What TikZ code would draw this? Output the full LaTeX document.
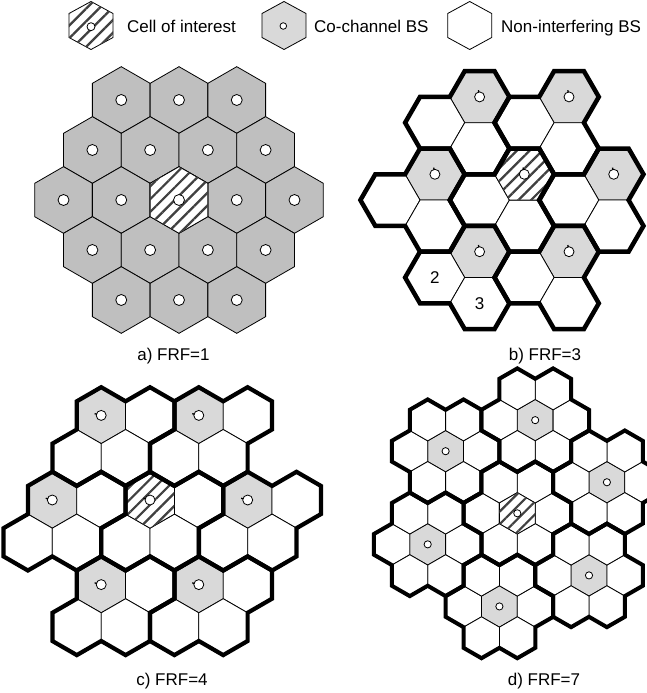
\documentclass[tikz,border=0pt]{standalone}
\usepackage{fontspec}
\setmainfont{Liberation Sans}
\usetikzlibrary{patterns.meta}

\definecolor{cochA}{gray}{0.75}
\definecolor{cochB}{gray}{0.85}

\newcommand{\hexup}[3][]{\path[cell,#1] (#2,#3) +(30:\hexR) -- +(90:\hexR) -- +(150:\hexR) -- +(210:\hexR) -- +(270:\hexR) -- +(330:\hexR) -- cycle;}
\newcommand{\hexflat}[3][]{\path[cell,#1] (#2,#3) +(0:\hexR) -- +(60:\hexR) -- +(120:\hexR) -- +(180:\hexR) -- +(240:\hexR) -- +(300:\hexR) -- cycle;}

\begin{document}
\begin{tikzpicture}[x=1pt,y=-1pt,
    cell/.style={draw=black, line width=0.8pt},
    hatch/.style={fill=white, postaction={pattern color=black!75, pattern={Lines[angle=45,distance=9pt,line width=2.2pt]}}},
    frame/.style={draw=black, line width=4.2pt},
    bs/.style={draw=black, fill=white, line width=0.8pt},
    tick/.style={line width=1.3pt},
    lbl/.style={font=\fontsize{17}{20}\selectfont, inner sep=0pt}
]
\useasboundingbox (0,0) rectangle (647,693);

\begin{scope}[shift={(91,25.5)}]
  \def\hexR{24}
  \hexup[hatch, xscale=1.06]{0}{0}
  \draw[bs] (0,1.2) circle (4pt);
\end{scope}
\begin{scope}[shift={(284,25.5)}]
  \def\hexR{24}
  \hexup[fill=cochB, xscale=1.06]{0}{0}
  \draw[bs] (-0.7,0.5) circle (3.3pt);
\end{scope}
\begin{scope}[shift={(469.7,25.5)}]
  \def\hexR{24}
  \hexup[fill=white, xscale=1.06]{0}{0}
\end{scope}
\node[lbl, anchor=base west] (legInt) at (127,32.5) {Cell of interest};
\node[lbl, anchor=base west] (legCo) at (314,32.5) {Co-channel BS};
\node[lbl, anchor=base west] (legNon) at (501,32.5) {Non-interfering BS};

\begin{scope}
  \def\hexR{33.33}
  \foreach \k in {-2,...,2} {
    \pgfmathtruncatemacro\n{4-abs(\k)}
    \foreach \j in {0,...,\n} {
      \pgfmathsetmacro\cx{179+(\j-\n/2)*57.74}
      \pgfmathsetmacro\cy{200+\k*50}
      \hexup[fill=cochA]{\cx}{\cy}
      \draw[bs] (\cx,\cy) circle (5.5pt);
    }
  }
  \hexup[hatch]{179}{200}
  \draw[bs] (179,200) circle (5.5pt);
\end{scope}
\node[lbl, anchor=base] (capA) at (173.5,360) {a) FRF=1};

\begin{scope}[shift={(524.3,174.3)}]
  \def\hexR{29.8}
  \foreach \sx/\sy in {0/0, -44.7/-77.4, 44.7/-77.4, -89.4/0, 89.4/0, -44.7/77.4, 44.7/77.4} {
    \hexflat[fill=cochB]{\sx}{\sy}
    \hexflat[fill=white]{\sx-44.7}{\sy+25.8}
    \hexflat[fill=white]{\sx}{\sy+51.6}
  }
  \hexflat[hatch]{0}{0}
  \foreach \sx/\sy in {0/0, -44.7/-77.4, 44.7/-77.4, -89.4/0, 89.4/0, -44.7/77.4, 44.7/77.4} {
    \draw[frame, line width=4.5pt, shift={(\sx,\sy)}] (-14.9,-25.8) -- (14.9,-25.8) -- (29.8,0) -- (14.9,25.8) -- (29.8,51.6) -- (14.9,77.4) -- (-14.9,77.4) -- (-29.8,51.6) -- (-59.6,51.6) -- (-74.5,25.8) -- (-59.6,0) -- (-29.8,0) -- cycle;
  }
  \foreach \sx/\sy in {0/0, -44.7/-77.4, 44.7/-77.4, -89.4/0, 89.4/0, -44.7/77.4, 44.7/77.4} {
    \draw[bs] (\sx,\sy) circle (5pt);
    \draw[tick] (\sx,\sy) ++(-100:4.6) -- ++(-100:2.2);
  }
  \node[lbl] (numTwo) at (-89.4,103.2) {2};
  \node[lbl] (numThree) at (-44.7,129) {3};
\end{scope}
\node[lbl, anchor=base] (capB) at (545,360) {b) FRF=3};

\begin{scope}[shift={(150,500)}]
  \def\hexR{28.2}
  \foreach \sx/\sy in {0/0, -97.7/0, 97.7/0, -48.8/-84.6, 48.8/-84.6, -48.8/84.6, 48.8/84.6} {
    \hexup[fill=cochB]{\sx}{\sy}
    \hexup[fill=white]{\sx+48.8}{\sy}
    \hexup[fill=white]{\sx-24.4}{\sy+42.3}
    \hexup[fill=white]{\sx+24.4}{\sy+42.3}
  }
  \hexup[hatch]{0}{0}
  \foreach \sx/\sy in {0/0, -97.7/0, 97.7/0, -48.8/-84.6, 48.8/-84.6, -48.8/84.6, 48.8/84.6} {
    \draw[frame, shift={(\sx,\sy)}] (0,-28.2) -- (24.4,-14.1) -- (48.8,-28.2) -- (73.2,-14.1) -- (73.2,14.1) -- (48.8,28.2) -- (48.8,56.4) -- (24.4,70.5) -- (0,56.4) -- (-24.4,70.5) -- (-48.8,56.4) -- (-48.8,28.2) -- (-24.4,14.1) -- (-24.4,-14.1) -- cycle;
  }
  \foreach \sx/\sy in {0/0, -97.7/0, 97.7/0, -48.8/-84.6, 48.8/-84.6, -48.8/84.6, 48.8/84.6} {
    \draw[bs] (\sx,\sy) circle (5pt);
    \draw[tick] (\sx,\sy) ++(-165:4.6) -- ++(-165:2.2);
  }
\end{scope}
\node[lbl, anchor=base] (capC) at (172,685) {c) FRF=4};

\begin{scope}[shift={(517.3,513.3)}]
  \def\hexR{20.7}
  \foreach \sx/\sy in {0/0, 89.6/-31.05, 17.9/-93.15, -71.7/-62.1, -89.6/31.05, -17.9/93.15, 71.7/62.1} {
    \hexup[fill=cochB]{\sx}{\sy}
    \foreach \dx/\dy in {35.85/0, -35.85/0, 17.9/31.05, -17.9/31.05, 17.9/-31.05, -17.9/-31.05} {
      \hexup[fill=white]{\sx+\dx}{\sy+\dy}
    }
  }
  \hexup[hatch]{0}{0}
  \foreach \sx/\sy in {0/0, 89.6/-31.05, 17.9/-93.15, -71.7/-62.1, -89.6/31.05, -17.9/93.15, 71.7/62.1} {
    \draw[frame, line width=4pt, shift={(\sx,\sy)}] (-35.85,-41.4) -- (-17.9,-51.75) -- (0,-41.4) -- (17.9,-51.75) -- (35.85,-41.4) -- (35.85,-20.7) -- (53.8,-10.35) -- (53.8,10.35) -- (35.85,20.7) -- (35.85,41.4) -- (17.9,51.75) -- (0,41.4) -- (-17.9,51.75) -- (-35.85,41.4) -- (-35.85,20.7) -- (-53.8,10.35) -- (-53.8,-10.35) -- (-35.85,-20.7) -- cycle;
  }
  \foreach \sx/\sy in {0/0, 89.6/-31.05, 17.9/-93.15, -71.7/-62.1, -89.6/31.05, -17.9/93.15, 71.7/62.1} {
    \draw[bs] (\sx,\sy) circle (3.6pt);
  }
\end{scope}
\node[lbl, anchor=base] (capD) at (544,685) {d) FRF=7};
\end{tikzpicture}
\end{document}
